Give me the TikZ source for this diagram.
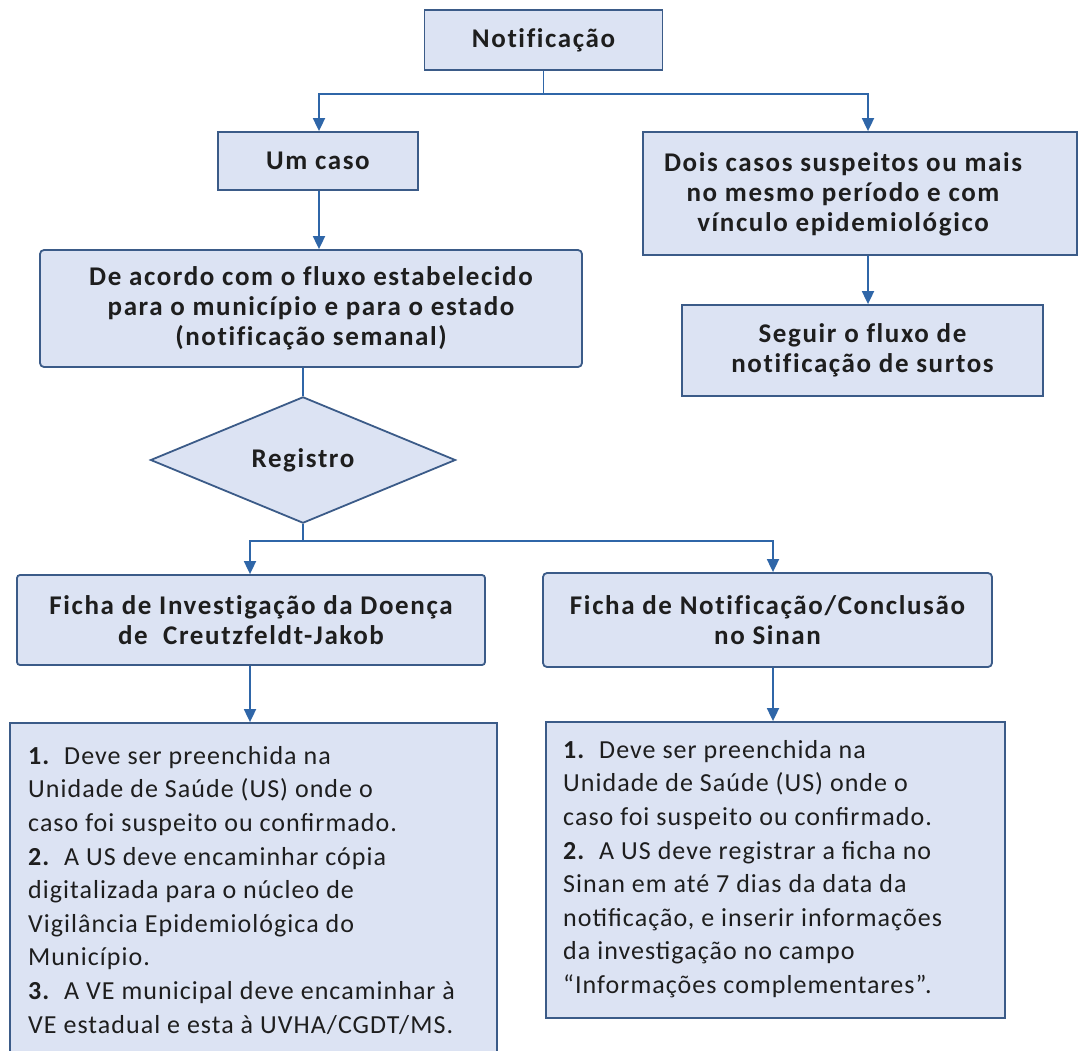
\documentclass[tikz,border=0pt]{standalone}
\usepackage{fontspec}
\setmainfont{Carlito}
\newfontfamily\hfont[LetterSpace=6,Ligatures=CommonOff]{Carlito}
\newfontfamily\lfont[LetterSpace=4]{Carlito}
\usetikzlibrary{arrows.meta,shapes.geometric}
\definecolor{boxfill}{HTML}{DCE3F3}
\definecolor{boxdraw}{HTML}{3B5B88}
\definecolor{connc}{HTML}{2F66A8}
\definecolor{txt}{HTML}{1E1E1E}
\begin{document}
\begin{tikzpicture}[x=1pt,y=-1pt,
  box/.style={draw=boxdraw, fill=boxfill, line width=1.8pt, inner sep=0pt},
  hfnt/.style={font=\hfont\bfseries\fontsize{27}{30}\selectfont, text=txt, align=center},
  hbox/.style={box, hfnt},
  ltext/.style={font=\lfont\fontsize{26}{33.6}\selectfont, text=txt, align=left, inner sep=0pt, anchor=north west},
  link/.style={draw=connc, line width=1.8pt},
  arr/.style={link, -{Triangle[width=12pt,length=13pt]}},
]
\clip (0,0) rectangle (1082,1050);
\fill[white] (0,0) rectangle (1082,1050);

% boxes
\node[hbox, minimum width=238pt, minimum height=60pt] (notif) at (543.5,40) {Notificação};
\node[hbox, minimum width=200pt, minimum height=58pt] (um) at (318,161) {Um caso};
\node[box, minimum width=434pt, minimum height=123pt] (dois) at (860,193.5) {};
\node[hfnt, inner sep=0pt] (doist) at (843,194) {Dois casos suspeitos ou mais\\no mesmo período e com\\vínculo epidemiológico};
\node[hbox, minimum width=361pt, minimum height=91pt] (seguir) at (862.5,350.5) {Seguir o fluxo de\\notificação de surtos};
\node[hbox, rounded corners=4pt, minimum width=542pt, minimum height=117pt] (acordo) at (311,308.5) {De acordo com o fluxo estabelecido\\para o município e para o estado\\(notificação semanal)};
\node[hbox, diamond, minimum width=305pt, minimum height=116pt] (reg) at (303,460) {Registro};
\node[hbox, rounded corners=3pt, minimum width=468pt, minimum height=90pt] (fichaL) at (251,620) {Ficha de Investigação da Doença\\de\ \ Creutzfeldt-Jakob};
\node[hbox, rounded corners=4pt, minimum width=449pt, minimum height=94pt] (fichaR) at (767.5,620) {Ficha de Notificação/Conclusão\\no Sinan};
\node[box, minimum width=487pt, minimum height=339pt] (listL) at (253.5,892.5) {};
\node[box, minimum width=459pt, minimum height=296pt] (listR) at (775.5,870) {};

\node[ltext] (listLt) at (28,746) {\textbf{1.}\ \ Deve ser preenchida na\\
Unidade de Saúde (US) onde o\\
caso foi suspeito ou confirmado.\\
\textbf{2.}\ \ A US deve encaminhar cópia\\
digitalizada para o núcleo de\\
Vigilância Epidemiológica do\\
Município.\\
\textbf{3.}\ \ A VE municipal deve encaminhar à\\
VE estadual e esta à UVHA/CGDT/MS.};
\node[ltext] (listRt) at (563,740) {\textbf{1.}\ \ Deve ser preenchida na\\
Unidade de Saúde (US) onde o\\
caso foi suspeito ou confirmado.\\
\textbf{2.}\ \ A US deve registrar a ficha no\\
Sinan em até 7 dias da data da\\
notificação, e inserir informações\\
da investigação no campo\\
“Informações complementares”.};

% connectors
\coordinate (j1) at (543.5,94);
\draw[link] (notif.south) -- (j1);
\draw[arr] (j1) -| ([xshift=1pt]um.north);
\draw[arr] (j1) -| ([xshift=8pt]dois.north);
\draw[arr] ([xshift=8pt]dois.south) -- ([xshift=8pt]dois.south |- seguir.north);
\draw[arr] ([xshift=1pt]um.south) -- ([xshift=1pt]um.south |- acordo.north);
\draw[link] (reg.north |- acordo.south) -- (reg.north);
\coordinate (j2) at (303,541);
\draw[link] (reg.south) -- (j2);
\draw[arr] (j2) -| ([xshift=-1pt]fichaL.north);
\draw[arr] (j2) -| ([xshift=5.5pt]fichaR.north);
\draw[arr] ([xshift=-1pt]fichaL.south) -- ([xshift=-1pt]fichaL.south |- listL.north);
\draw[arr] ([xshift=5.5pt]fichaR.south) -- ([xshift=5.5pt]fichaR.south |- listR.north);
\end{tikzpicture}
\end{document}
